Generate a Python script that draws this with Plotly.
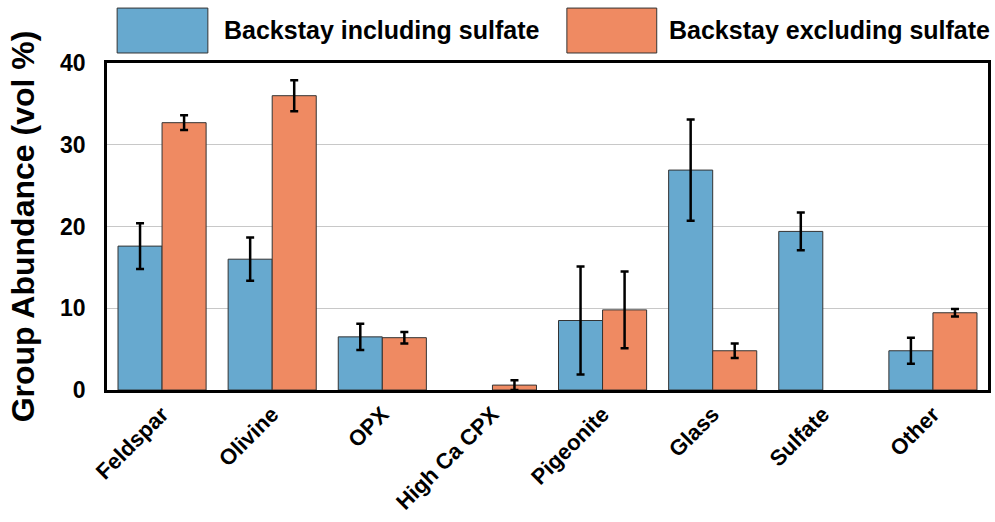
import plotly.graph_objects as go

# Mineral groups and modal abundances (vol %) with 1-sigma uncertainties
categories = ["Feldspar", "Olivine", "OPX", "High Ca CPX", "Pigeonite", "Glass", "Sulfate", "Other"]
incl_values = [17.6, 16.0, 6.5, None, 8.5, 26.9, 19.4, 4.8]
incl_errors = [2.8, 2.65, 1.6, None, 6.6, 6.2, 2.3, 1.6]
excl_values = [32.7, 36.0, 6.4, 0.6, 9.8, 4.8, None, 9.45]
excl_errors = [0.9, 1.9, 0.7, 0.6, 4.7, 0.9, None, 0.45]

series_names = ["Backstay including sulfate", "Backstay excluding sulfate"]
series_colors = ["#67a9cf", "#ef8a62"]

y_ticks = [0, 10, 20, 30, 40]

FONT = "Liberation Sans, Arial, Helvetica, sans-serif"

fig = go.Figure()
for name, vals, errs, color in zip(series_names,
                                   [incl_values, excl_values],
                                   [incl_errors, excl_errors],
                                   series_colors):
    fig.add_trace(go.Bar(
        name=name,
        x=categories,
        y=vals,
        marker=dict(color=color, line=dict(color="#333333", width=1)),
        error_y=dict(type="data", array=errs, visible=True,
                     color="black", thickness=2.5, width=4),
        showlegend=False,
    ))

# Custom legend: large colour swatches with bold labels above the plot
legend_items = [
    (0.0115, 0.1145, 0.1305, series_names[0], series_colors[0]),
    (0.522, 0.624, 0.6356, series_names[1], series_colors[1]),
]
for x0, x1, xt, label, color in legend_items:
    fig.add_shape(type="rect", xref="paper", yref="paper",
                  x0=x0, x1=x1, y0=1.0306, y1=1.168,
                  fillcolor=color, line=dict(color="#333333", width=1))
    fig.add_annotation(x=xt, y=1.101, xref="paper", yref="paper",
                       text=f"<b>{label}</b>", showarrow=False,
                       xanchor="left", yanchor="middle",
                       font=dict(family=FONT, size=25, color="black"))

fig.update_layout(
    width=995, height=522,
    margin=dict(l=107, r=7, t=63, b=132),
    paper_bgcolor="white", plot_bgcolor="white",
    barmode="group", bargap=0.2, bargroupgap=0,
    font=dict(family=FONT, color="black"),
)
fig.update_xaxes(
    automargin=False,
    tickangle=-45,
    tickfont=dict(family=FONT, size=22, color="black"),
    ticks="",
    showline=True, linecolor="black", linewidth=2.5, mirror=True,
    showgrid=False,
    tickprefix="<b>", ticksuffix="</b>",
)
fig.update_yaxes(
    automargin=False,
    range=[0, 40],
    tickvals=y_ticks,
    ticktext=[f"<b>{v}</b>" for v in y_ticks],
    tickfont=dict(family=FONT, size=23, color="black"),
    ticks="outside", ticklen=14, tickcolor="rgba(0,0,0,0)",
    showline=True, linecolor="black", linewidth=2.5, mirror=True,
    showgrid=True, gridcolor="#c8c8c8", gridwidth=1,
    zeroline=False,
    title=dict(text="<b>Group Abundance (vol %)</b>",
               font=dict(family=FONT, size=32, color="black"), standoff=16),
)

fig.write_html("out.html")
